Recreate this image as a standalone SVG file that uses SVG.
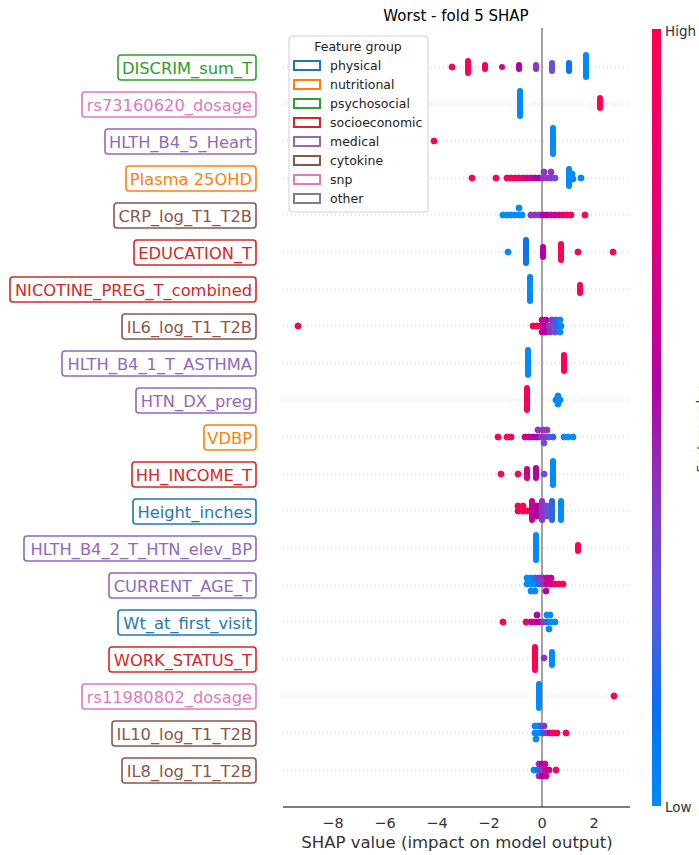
<svg xmlns="http://www.w3.org/2000/svg" width="699" height="855" viewBox="0 0 699 855">
<style>
text{font-family:"DejaVu Sans","Liberation Sans",sans-serif}
.lbl{font-size:16.3px;text-anchor:end}
.box{fill:#fff;stroke-width:1.6}
.grid{stroke:#cccccc;stroke-width:1;stroke-dasharray:1,3}
.cap{stroke-linecap:round;stroke-width:6;fill:none}
.tick{font-size:14.5px;fill:#333;text-anchor:middle}
.lg{font-size:12.5px;fill:#222}
.r{fill:#ff0052;stroke:#ff0052}
.r2{fill:#f2005e;stroke:#f2005e}
.m{fill:#cc008c;stroke:#cc008c}
.m2{fill:#b000a5;stroke:#b000a5}
.p{fill:#9035c2;stroke:#9035c2}
.p2{fill:#6a50d8;stroke:#6a50d8}
.b2{fill:#2a66ec;stroke:#2a66ec}
.b3{fill:#0a74f2;stroke:#0a74f2}
.b{fill:#008bfb;stroke:#008bfb}
circle{stroke:none}
</style>
<defs>
<linearGradient id="cb" x1="0" y1="0" x2="0" y2="1">
<stop offset="0" stop-color="#ff0052"/>
<stop offset="0.25" stop-color="#e3007a"/>
<stop offset="0.45" stop-color="#b800a2"/>
<stop offset="0.6" stop-color="#8a35c0"/>
<stop offset="0.75" stop-color="#5a58e0"/>
<stop offset="0.87" stop-color="#0a6ff0"/>
<stop offset="1" stop-color="#008bfb"/>
</linearGradient>
</defs>
<rect width="699" height="855" fill="#fff"/>

<text x="456" y="21" font-size="15" text-anchor="middle" fill="#000">Worst - fold 5 SHAP</text>

<g id="grid">
<line class="grid" x1="283" y1="67" x2="630" y2="67"/>
<line class="grid" x1="283" y1="104" x2="630" y2="104"/>
<line class="grid" x1="283" y1="141" x2="630" y2="141"/>
<line class="grid" x1="283" y1="178" x2="630" y2="178"/>
<line class="grid" x1="283" y1="215" x2="630" y2="215"/>
<line class="grid" x1="283" y1="252" x2="630" y2="252"/>
<line class="grid" x1="283" y1="289" x2="630" y2="289"/>
<line class="grid" x1="283" y1="326" x2="630" y2="326"/>
<line class="grid" x1="283" y1="363" x2="630" y2="363"/>
<line class="grid" x1="283" y1="400" x2="630" y2="400"/>
<line class="grid" x1="283" y1="437" x2="630" y2="437"/>
<line class="grid" x1="283" y1="474" x2="630" y2="474"/>
<line class="grid" x1="283" y1="511" x2="630" y2="511"/>
<line class="grid" x1="283" y1="548" x2="630" y2="548"/>
<line class="grid" x1="283" y1="585" x2="630" y2="585"/>
<line class="grid" x1="283" y1="622" x2="630" y2="622"/>
<line class="grid" x1="283" y1="659" x2="630" y2="659"/>
<line class="grid" x1="283" y1="696" x2="630" y2="696"/>
<line class="grid" x1="283" y1="733" x2="630" y2="733"/>
<line class="grid" x1="283" y1="770" x2="630" y2="770"/>
</g>

<g id="axes">
<line x1="542" y1="28" x2="542" y2="807" stroke="#999" stroke-width="1.8"/>
<line x1="283" y1="807" x2="630" y2="807" stroke="#000" stroke-width="1"/>
<text class="tick" x="333" y="828">−8</text>
<text class="tick" x="385" y="828">−6</text>
<text class="tick" x="437" y="828">−4</text>
<text class="tick" x="489" y="828">−2</text>
<text class="tick" x="542" y="828">0</text>
<text class="tick" x="594" y="828">2</text>
<text x="457" y="848" font-size="16.5" text-anchor="middle" fill="#333">SHAP value (impact on model output)</text>
</g>

<g id="labels">
<g id="n-DISCRIM"><rect class="box" x="118" y="55" width="138" height="25" rx="3" stroke="#2ca02c"/><text class="lbl" x="252" y="73.5" fill="#2ca02c">DISCRIM_sum_T</text></g>
<g id="n-rs73160620"><rect class="box" x="82" y="92" width="174" height="25" rx="3" stroke="#e377c2"/><text class="lbl" x="252" y="110.5" fill="#e377c2">rs73160620_dosage</text></g>
<g id="n-HLTH_B4_5"><rect class="box" x="105" y="129" width="151" height="25" rx="3" stroke="#9467bd"/><text class="lbl" x="252" y="147.5" fill="#9467bd">HLTH_B4_5_Heart</text></g>
<g id="n-Plasma"><rect class="box" x="126" y="166" width="130" height="25" rx="3" stroke="#ff7f0e"/><text class="lbl" x="252" y="184.5" fill="#ff7f0e">Plasma 25OHD</text></g>
<g id="n-CRP"><rect class="box" x="114" y="203" width="142" height="25" rx="3" stroke="#8c564b"/><text class="lbl" x="252" y="221.5" fill="#8c564b">CRP_log_T1_T2B</text></g>
<g id="n-EDUCATION"><rect class="box" x="134" y="240" width="122" height="25" rx="3" stroke="#d62728"/><text class="lbl" x="252" y="258.5" fill="#d62728">EDUCATION_T</text></g>
<g id="n-NICOTINE"><rect class="box" x="10" y="277" width="246" height="25" rx="3" stroke="#d62728"/><text class="lbl" x="252" y="295.5" fill="#d62728">NICOTINE_PREG_T_combined</text></g>
<g id="n-IL6"><rect class="box" x="122" y="314" width="134" height="25" rx="3" stroke="#8c564b"/><text class="lbl" x="252" y="332.5" fill="#8c564b">IL6_log_T1_T2B</text></g>
<g id="n-ASTHMA"><rect class="box" x="62" y="351" width="194" height="25" rx="3" stroke="#9467bd"/><text class="lbl" x="252" y="369.5" fill="#9467bd">HLTH_B4_1_T_ASTHMA</text></g>
<g id="n-HTN_DX"><rect class="box" x="136" y="388" width="120" height="25" rx="3" stroke="#9467bd"/><text class="lbl" x="252" y="406.5" fill="#9467bd">HTN_DX_preg</text></g>
<g id="n-VDBP"><rect class="box" x="204" y="425" width="52" height="25" rx="3" stroke="#ff7f0e"/><text class="lbl" x="252" y="443.5" fill="#ff7f0e">VDBP</text></g>
<g id="n-HH_INCOME"><rect class="box" x="132" y="462" width="124" height="25" rx="3" stroke="#d62728"/><text class="lbl" x="252" y="480.5" fill="#d62728">HH_INCOME_T</text></g>
<g id="n-Height"><rect class="box" x="133" y="499" width="123" height="25" rx="3" stroke="#1f77b4"/><text class="lbl" x="252" y="517.5" fill="#1f77b4">Height_inches</text></g>
<g id="n-HTN_elev"><rect class="box" x="24" y="536" width="232" height="25" rx="3" stroke="#9467bd"/><text class="lbl" x="252" y="554.5" fill="#9467bd">HLTH_B4_2_T_HTN_elev_BP</text></g>
<g id="n-AGE"><rect class="box" x="109" y="573" width="147" height="25" rx="3" stroke="#9467bd"/><text class="lbl" x="252" y="591.5" fill="#9467bd">CURRENT_AGE_T</text></g>
<g id="n-Wt"><rect class="box" x="118" y="610" width="138" height="25" rx="3" stroke="#1f77b4"/><text class="lbl" x="252" y="628.5" fill="#1f77b4">Wt_at_first_visit</text></g>
<g id="n-WORK"><rect class="box" x="109" y="647" width="147" height="25" rx="3" stroke="#d62728"/><text class="lbl" x="252" y="665.5" fill="#d62728">WORK_STATUS_T</text></g>
<g id="n-rs11980802"><rect class="box" x="82" y="684" width="174" height="25" rx="3" stroke="#e377c2"/><text class="lbl" x="252" y="702.5" fill="#e377c2">rs11980802_dosage</text></g>
<g id="n-IL10"><rect class="box" x="112" y="721" width="144" height="25" rx="3" stroke="#8c564b"/><text class="lbl" x="252" y="739.5" fill="#8c564b">IL10_log_T1_T2B</text></g>
<g id="n-IL8"><rect class="box" x="122" y="758" width="134" height="25" rx="3" stroke="#8c564b"/><text class="lbl" x="252" y="776.5" fill="#8c564b">IL8_log_T1_T2B</text></g>
</g>

<g id="dots">
<circle class="r" cx="452" cy="67" r="3"/>
<line class="cap r" x1="468" y1="61" x2="468" y2="73"/>
<line class="cap r2" x1="485" y1="65" x2="485" y2="69"/>
<circle cx="502" cy="67" r="3" fill="#e3006c"/>
<line class="cap m2" x1="519" y1="65" x2="519" y2="69"/>
<line class="cap p" x1="536" y1="65" x2="536" y2="69"/>
<line class="cap p2" x1="552" y1="63" x2="552" y2="71"/>
<line class="cap b3" x1="569" y1="63" x2="569" y2="71"/>
<line class="cap b" x1="586" y1="55" x2="586" y2="77"/>
<line class="cap b" x1="520" y1="91" x2="520" y2="116"/>
<line class="cap r" x1="600" y1="98" x2="600" y2="108"/>
<circle class="r" cx="434" cy="141" r="3"/>
<line class="cap b" x1="553" y1="128" x2="553" y2="154"/>
<circle class="r" cx="472" cy="178" r="3"/>
<circle class="r" cx="496" cy="178" r="3"/>
<circle class="r2" cx="507" cy="178" r="3"/>
<circle class="r2" cx="511" cy="178" r="3"/>
<circle class="r2" cx="515" cy="178" r="3"/>
<circle class="r2" cx="519" cy="178" r="3"/>
<circle class="r2" cx="523" cy="178" r="3"/>
<circle class="m" cx="527" cy="178" r="3"/>
<circle class="m" cx="531" cy="178" r="3"/>
<circle class="m2" cx="535" cy="178" r="3"/>
<circle class="m2" cx="539" cy="178" r="3"/>
<circle class="p" cx="543" cy="178" r="3"/>
<circle class="p" cx="547" cy="178" r="3"/>
<circle class="p" cx="551" cy="178" r="3"/>
<circle class="p2" cx="555" cy="178" r="3"/>
<circle class="p" cx="544" cy="172" r="3"/>
<circle class="p" cx="551" cy="172" r="3"/>
<line class="cap b" x1="569" y1="169" x2="569" y2="186"/>
<circle class="b" cx="572" cy="174" r="3"/>
<circle class="b" cx="573" cy="179" r="3"/>
<circle class="b" cx="581" cy="178" r="3"/>
<circle class="b" cx="503" cy="215" r="3"/>
<circle class="b" cx="507" cy="215" r="3"/>
<circle class="b" cx="511" cy="215" r="3"/>
<circle class="b" cx="515" cy="215" r="3"/>
<circle class="b" cx="519" cy="215" r="3"/>
<circle class="b" cx="522" cy="215" r="3"/>
<circle class="b" cx="519" cy="208" r="3"/>
<circle class="p" cx="531" cy="215" r="3"/>
<circle class="p" cx="535" cy="215" r="3"/>
<circle class="p" cx="539" cy="215" r="3"/>
<circle class="m2" cx="543" cy="215" r="3"/>
<circle class="m2" cx="547" cy="215" r="3"/>
<circle class="m" cx="551" cy="215" r="3"/>
<circle class="m" cx="555" cy="215" r="3"/>
<circle class="m" cx="559" cy="215" r="3"/>
<circle class="r2" cx="563" cy="215" r="3"/>
<circle class="r2" cx="567" cy="215" r="3"/>
<circle class="r2" cx="571" cy="215" r="3"/>
<circle class="r" cx="585" cy="215" r="3"/>
<circle class="b" cx="508" cy="252" r="3"/>
<line class="cap b3" x1="526" y1="240" x2="526" y2="263"/>
<line class="cap m2" x1="543" y1="247" x2="543" y2="257"/>
<line class="cap r" x1="561" y1="244" x2="561" y2="260"/>
<circle class="r" cx="578" cy="252" r="3"/>
<circle class="r" cx="613" cy="252" r="3"/>
<line class="cap b" x1="530" y1="277" x2="530" y2="301"/>
<line class="cap r" x1="580" y1="285" x2="580" y2="293"/>
<circle class="r" cx="298" cy="326" r="3"/>
<circle class="r" cx="533" cy="326" r="3"/>
<circle class="r" cx="537" cy="326" r="3"/>
<circle class="m" cx="541" cy="326" r="3"/>
<circle class="m2" cx="545" cy="326" r="3"/>
<circle class="p" cx="549" cy="326" r="3"/>
<circle class="p2" cx="553" cy="326" r="3"/>
<circle class="b2" cx="557" cy="326" r="3"/>
<circle class="b" cx="561" cy="326" r="3"/>
<circle class="m" cx="542" cy="320" r="3"/>
<circle class="m2" cx="546" cy="320" r="3"/>
<circle class="p" cx="552" cy="320" r="3"/>
<circle class="b2" cx="556" cy="320" r="3"/>
<circle class="b" cx="560" cy="320" r="3"/>
<circle class="m" cx="542" cy="332" r="3"/>
<circle class="m2" cx="546" cy="332" r="3"/>
<circle class="p" cx="550" cy="332" r="3"/>
<circle class="p2" cx="555" cy="332" r="3"/>
<circle class="b" cx="560" cy="332" r="3"/>
<line class="cap b" x1="528" y1="350" x2="528" y2="375"/>
<line class="cap r" x1="564" y1="355" x2="564" y2="371"/>
<line class="cap r" x1="527" y1="388" x2="527" y2="410"/>
<circle class="b" cx="556" cy="400" r="3"/>
<circle class="b" cx="560" cy="400" r="3"/>
<circle class="b" cx="558" cy="396" r="3"/>
<circle class="b" cx="558" cy="404" r="3"/>
<circle class="r" cx="498" cy="437" r="3"/>
<circle class="r" cx="507" cy="437" r="3"/>
<circle class="r" cx="511" cy="437" r="3"/>
<circle class="m" cx="525" cy="437" r="3"/>
<circle class="m" cx="529" cy="437" r="3"/>
<circle class="m2" cx="533" cy="437" r="3"/>
<circle class="m2" cx="537" cy="437" r="3"/>
<circle class="p" cx="541" cy="437" r="3"/>
<circle class="p" cx="545" cy="437" r="3"/>
<circle class="p2" cx="549" cy="437" r="3"/>
<circle class="b2" cx="553" cy="437" r="3"/>
<circle class="b" cx="564" cy="437" r="3"/>
<circle class="b" cx="568" cy="437" r="3"/>
<circle class="b" cx="573" cy="437" r="3"/>
<circle class="p" cx="538" cy="430" r="3"/>
<circle class="p" cx="543" cy="430" r="3"/>
<circle class="p" cx="547" cy="430" r="3"/>
<circle class="p2" cx="544" cy="443" r="3"/>
<circle class="r" cx="501" cy="474" r="3"/>
<circle class="r" cx="518" cy="474" r="3"/>
<line class="cap m" x1="527" y1="469" x2="527" y2="478"/>
<line class="cap m2" x1="536" y1="468" x2="536" y2="478"/>
<circle class="p2" cx="544" cy="474" r="3"/>
<line class="cap b" x1="553" y1="461" x2="553" y2="485"/>
<circle class="r" cx="518" cy="506" r="3"/>
<circle class="r" cx="518" cy="511" r="3"/>
<circle class="r" cx="523" cy="506" r="3"/>
<circle class="r" cx="523" cy="511" r="3"/>
<circle class="r2" cx="527" cy="511" r="3"/>
<line class="cap m" x1="532" y1="501" x2="532" y2="520"/>
<circle class="m2" cx="537" cy="506" r="3"/>
<circle class="m2" cx="537" cy="511" r="3"/>
<circle class="m2" cx="537" cy="516" r="3"/>
<line class="cap p" x1="542" y1="501" x2="542" y2="520"/>
<circle class="p2" cx="547" cy="506" r="3"/>
<circle class="p2" cx="547" cy="511" r="3"/>
<circle class="p2" cx="547" cy="516" r="3"/>
<line class="cap b2" x1="552" y1="501" x2="552" y2="520"/>
<line class="cap b" x1="561" y1="501" x2="561" y2="520"/>
<line class="cap b" x1="536" y1="535" x2="536" y2="560"/>
<line class="cap r" x1="578" y1="545" x2="578" y2="551"/>
<circle class="b" cx="527" cy="578" r="3"/>
<circle class="b" cx="531" cy="578" r="3"/>
<circle class="b2" cx="535" cy="578" r="3"/>
<circle class="p" cx="539" cy="578" r="3"/>
<circle class="p" cx="543" cy="578" r="3"/>
<circle class="m" cx="547" cy="578" r="3"/>
<circle class="m" cx="551" cy="578" r="3"/>
<circle class="b" cx="527" cy="584" r="3"/>
<circle class="b" cx="531" cy="584" r="3"/>
<circle class="b" cx="535" cy="584" r="3"/>
<circle class="b2" cx="539" cy="584" r="3"/>
<circle class="p" cx="543" cy="584" r="3"/>
<circle class="m" cx="547" cy="584" r="3"/>
<circle class="m" cx="551" cy="584" r="3"/>
<circle class="r2" cx="555" cy="584" r="3"/>
<circle class="r" cx="559" cy="584" r="3"/>
<circle class="r" cx="563" cy="584" r="3"/>
<circle class="b" cx="531" cy="591" r="3"/>
<circle class="b" cx="535" cy="591" r="3"/>
<circle class="m2" cx="546" cy="591" r="3"/>
<circle class="r" cx="503" cy="622" r="3"/>
<circle class="r" cx="526" cy="622" r="3"/>
<circle class="m" cx="531" cy="622" r="3"/>
<circle class="m" cx="535" cy="622" r="3"/>
<circle class="m2" cx="539" cy="622" r="3"/>
<circle class="p" cx="543" cy="622" r="3"/>
<circle class="b2" cx="547" cy="622" r="3"/>
<circle class="b" cx="551" cy="622" r="3"/>
<circle class="b" cx="555" cy="622" r="3"/>
<circle class="m2" cx="537" cy="615" r="3"/>
<circle class="b" cx="547" cy="615" r="3"/>
<circle class="b" cx="550" cy="615" r="3"/>
<circle class="b" cx="549" cy="629" r="3"/>
<line class="cap r" x1="535" y1="647" x2="535" y2="670" stroke-width="7"/>
<circle class="p" cx="544" cy="658" r="3"/>
<line class="cap b" x1="552" y1="652" x2="552" y2="665"/>
<line class="cap b" x1="539" y1="684" x2="539" y2="708"/>
<circle class="r" cx="614" cy="696" r="3"/>
<circle class="b" cx="535" cy="726" r="3"/>
<circle class="b" cx="538" cy="726" r="3"/>
<circle class="b2" cx="541" cy="726" r="3"/>
<circle class="p" cx="544" cy="726" r="3"/>
<circle class="b" cx="535" cy="733" r="3"/>
<circle class="b" cx="539" cy="733" r="3"/>
<circle class="b2" cx="543" cy="733" r="3"/>
<circle class="p" cx="547" cy="733" r="3"/>
<circle class="m" cx="550" cy="733" r="3"/>
<circle class="r" cx="553" cy="733" r="3"/>
<circle class="r" cx="557" cy="733" r="3"/>
<circle class="r" cx="566" cy="733" r="3"/>
<circle class="b" cx="536" cy="739" r="3"/>
<circle class="p" cx="539" cy="764" r="3"/>
<circle class="m2" cx="542" cy="764" r="3"/>
<circle class="m" cx="545" cy="764" r="3"/>
<circle class="b" cx="534" cy="770" r="3"/>
<circle class="b2" cx="538" cy="770" r="3"/>
<circle class="p" cx="542" cy="770" r="3"/>
<circle class="m" cx="546" cy="770" r="3"/>
<circle class="m" cx="549" cy="770" r="3"/>
<circle class="r" cx="556" cy="770" r="3"/>
<circle class="p" cx="539" cy="776" r="3"/>
<circle class="m2" cx="542" cy="776" r="3"/>
<circle class="m" cx="546" cy="776" r="3"/>
</g>

<g id="legend">
<rect x="289" y="36" width="139" height="176" rx="3" fill="#fff" fill-opacity="0.85" stroke="#d0d0d0" stroke-width="1"/>
<text class="lg" x="358" y="51" text-anchor="middle">Feature group</text>
<rect x="294" y="61" width="26" height="9" fill="none" stroke="#1f77b4" stroke-width="2"/><text class="lg" x="330" y="70">physical</text>
<rect x="294" y="80" width="26" height="9" fill="none" stroke="#ff7f0e" stroke-width="2"/><text class="lg" x="330" y="89">nutritional</text>
<rect x="294" y="99" width="26" height="9" fill="none" stroke="#2ca02c" stroke-width="2"/><text class="lg" x="330" y="108">psychosocial</text>
<rect x="294" y="118" width="26" height="9" fill="none" stroke="#d62728" stroke-width="2"/><text class="lg" x="330" y="127">socioeconomic</text>
<rect x="294" y="137" width="26" height="9" fill="none" stroke="#9467bd" stroke-width="2"/><text class="lg" x="330" y="146">medical</text>
<rect x="294" y="156" width="26" height="9" fill="none" stroke="#8c564b" stroke-width="2"/><text class="lg" x="330" y="165">cytokine</text>
<rect x="294" y="175" width="26" height="9" fill="none" stroke="#e377c2" stroke-width="2"/><text class="lg" x="330" y="184">snp</text>
<rect x="294" y="194" width="26" height="9" fill="none" stroke="#7f7f7f" stroke-width="2"/><text class="lg" x="330" y="203">other</text>
</g>

<g id="colorbar">
<rect x="652" y="29" width="9" height="777" fill="url(#cb)"/>
<text x="665" y="36" font-size="13.5" fill="#333">High</text>
<text x="665" y="812" font-size="13.5" fill="#333">Low</text>
<text transform="translate(706,428) rotate(-90)" font-size="13" text-anchor="middle" fill="#333">Feature value</text>
</g>
</svg>
